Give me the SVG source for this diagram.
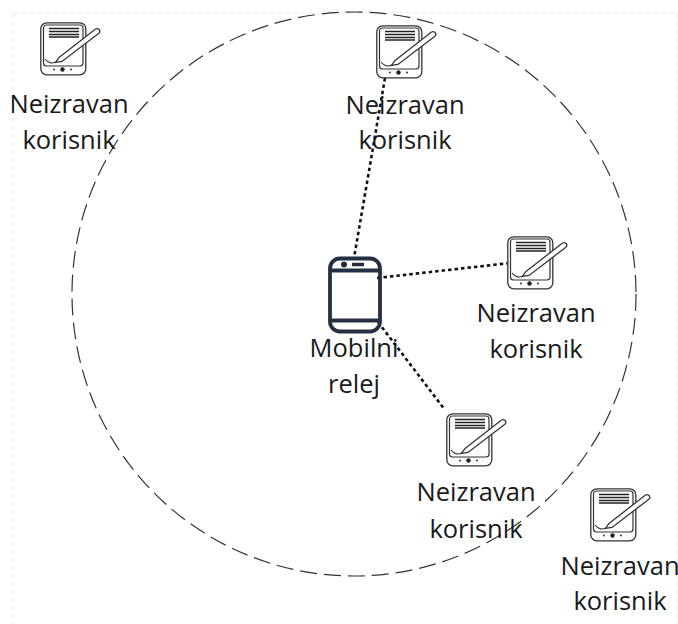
<svg xmlns="http://www.w3.org/2000/svg" width="678" height="624" viewBox="0 0 678 624">
<style>
.t{font-family:"Open Sans","Noto Sans",sans-serif;font-size:25.5px;fill:#1a1a1a;text-anchor:middle}
.d{fill:none;stroke:#111;stroke-width:2.6;stroke-dasharray:3.500 3}
.k{fill:none;stroke:#333;stroke-width:1.2}
.ph{fill:none;stroke:#252f42;stroke-width:3.800}
</style>
<defs>
<g id="tab">
<rect x="0.800" y="0.800" width="45" height="52" rx="6" fill="#fff" stroke="#333" stroke-width="1.300"/>
<rect x="3.500" y="3" width="39.500" height="41" rx="3" class="k"/>
<path d="M9 6.500H39M9 9.500H39M9 12.500H39M9 15H39" stroke="#222" stroke-width="1.700" fill="none"/>
<circle cx="22.500" cy="47.500" r="2.200" fill="#222"/><circle cx="14" cy="47.500" r="1" fill="#333"/><circle cx="31" cy="47.500" r="1" fill="#333"/>
<path d="M19 35.500L55.500 7Q58 6 59.500 8Q60.500 10.500 58.500 11.500L22 39.500L15.500 40.500Z" fill="#fff" stroke="#333" stroke-width="1.300"/>
<path d="M5 37C9 42 12 41.500 16 40" class="k"/>
</g>
</defs>
<path d="M13 13H677M13 13V624M677 13V624" fill="none" stroke="#ececec" stroke-dasharray="5 3"/>
<g id="relay-circle"><circle cx="354" cy="294" r="282" fill="none" stroke="#333" stroke-width="1.200" stroke-dasharray="17 7"/></g>
<g id="connectors">
<path class="d" d="M385 78L354 258"/>
<path class="d" d="M377 278L510 263"/>
<path class="d" d="M378 322L445 410"/>
</g>
<g id="node-user-1"><use href="#tab" x="40" y="22"/><text class="t" x="69" y="113">Neizravan</text><text class="t" x="69" y="149">korisnik</text></g>
<g id="node-user-2"><use href="#tab" x="376" y="25"/><text class="t" x="405" y="114">Neizravan</text><text class="t" x="405" y="149">korisnik</text></g>
<g id="node-user-3"><use href="#tab" x="507" y="236"/><text class="t" x="536" y="322">Neizravan</text><text class="t" x="536" y="358">korisnik</text></g>
<g id="node-user-4"><use href="#tab" x="446" y="413"/><text class="t" x="476" y="501">Neizravan</text><text class="t" x="476" y="538">korisnik</text></g>
<g id="node-user-5"><use href="#tab" x="590" y="488"/><text class="t" x="620" y="575">Neizravan</text><text class="t" x="620" y="610">korisnik</text></g>
<g id="node-relay">
<rect x="330" y="258.500" width="50" height="73" rx="10" class="ph"/>
<path class="ph" d="M330 270.500H380M330 320.500H380"/>
<circle cx="344" cy="264.500" r="3" fill="#252f42"/><path d="M352 264.500H364" stroke="#252f42" stroke-width="3.500"/>
<text class="t" x="354" y="357">Mobilni</text><text class="t" x="354" y="393">relej</text>
</g>
</svg>
